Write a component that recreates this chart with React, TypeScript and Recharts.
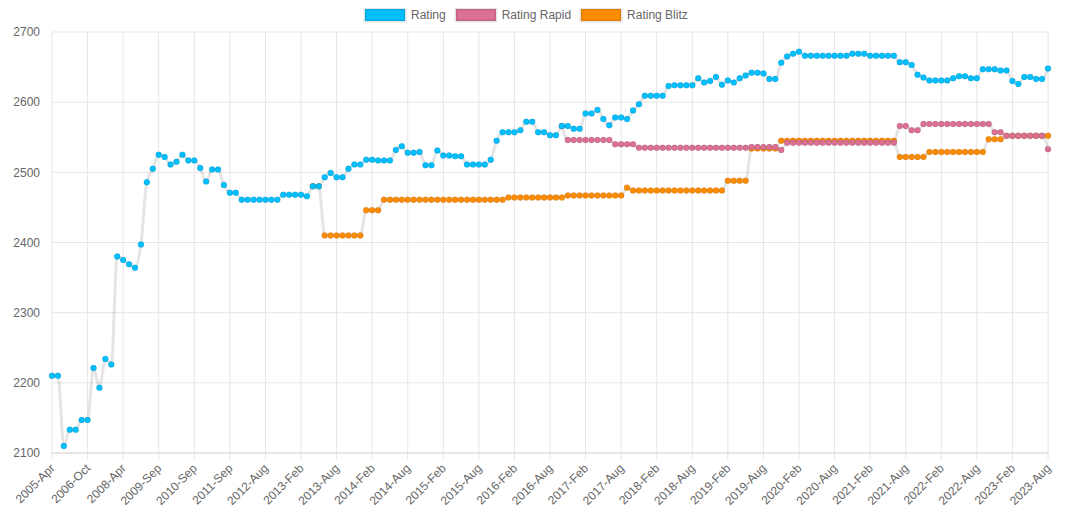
import React from 'react';
import { LineChart, Line, XAxis, YAxis, CartesianGrid } from 'recharts';

const categories = [
  '2005-Apr', '2005-Jul', '2005-Oct',
  '2006-Jan', '2006-Apr', '2006-Jul', '2006-Oct',
  '2007-Jan', '2007-Apr', '2007-Jul', '2007-Oct',
  '2008-Jan', '2008-Apr', '2008-Jul', '2008-Oct',
  '2009-Jan', '2009-Apr', '2009-Jul', '2009-Sep', '2009-Nov',
  '2010-Jan', '2010-Mar', '2010-May', '2010-Jul', '2010-Sep', '2010-Nov',
  '2011-Jan', '2011-Mar', '2011-May', '2011-Jul', '2011-Sep', '2011-Nov',
  '2012-Jan', '2012-Mar', '2012-May', '2012-Jul', '2012-Aug', '2012-Sep', '2012-Oct', '2012-Nov', '2012-Dec',
  '2013-Jan', '2013-Feb', '2013-Mar', '2013-Apr', '2013-May', '2013-Jun', '2013-Jul', '2013-Aug', '2013-Sep', '2013-Oct', '2013-Nov', '2013-Dec',
  '2014-Jan', '2014-Feb', '2014-Mar', '2014-Apr', '2014-May', '2014-Jun', '2014-Jul', '2014-Aug', '2014-Sep', '2014-Oct', '2014-Nov', '2014-Dec',
  '2015-Jan', '2015-Feb', '2015-Mar', '2015-Apr', '2015-May', '2015-Jun', '2015-Jul', '2015-Aug', '2015-Sep', '2015-Oct', '2015-Nov', '2015-Dec',
  '2016-Jan', '2016-Feb', '2016-Mar', '2016-Apr', '2016-May', '2016-Jun', '2016-Jul', '2016-Aug', '2016-Sep', '2016-Oct', '2016-Nov', '2016-Dec',
  '2017-Jan', '2017-Feb', '2017-Mar', '2017-Apr', '2017-May', '2017-Jun', '2017-Jul', '2017-Aug', '2017-Sep', '2017-Oct', '2017-Nov', '2017-Dec',
  '2018-Jan', '2018-Feb', '2018-Mar', '2018-Apr', '2018-May', '2018-Jun', '2018-Jul', '2018-Aug', '2018-Sep', '2018-Oct', '2018-Nov', '2018-Dec',
  '2019-Jan', '2019-Feb', '2019-Mar', '2019-Apr', '2019-May', '2019-Jun', '2019-Jul', '2019-Aug', '2019-Sep', '2019-Oct', '2019-Nov', '2019-Dec',
  '2020-Jan', '2020-Feb', '2020-Mar', '2020-Apr', '2020-May', '2020-Jun', '2020-Jul', '2020-Aug', '2020-Sep', '2020-Oct', '2020-Nov', '2020-Dec',
  '2021-Jan', '2021-Feb', '2021-Mar', '2021-Apr', '2021-May', '2021-Jun', '2021-Jul', '2021-Aug', '2021-Sep', '2021-Oct', '2021-Nov', '2021-Dec',
  '2022-Jan', '2022-Feb', '2022-Mar', '2022-Apr', '2022-May', '2022-Jun', '2022-Jul', '2022-Aug', '2022-Sep', '2022-Oct', '2022-Nov', '2022-Dec',
  '2023-Jan', '2023-Feb', '2023-Mar', '2023-Apr', '2023-May', '2023-Jun', '2023-Jul', '2023-Aug',
];

const xTickLabels = [
  '2005-Apr', '2006-Oct', '2008-Apr', '2009-Sep', '2010-Sep', '2011-Sep', '2012-Aug',
  '2013-Feb', '2013-Aug', '2014-Feb', '2014-Aug', '2015-Feb', '2015-Aug', '2016-Feb',
  '2016-Aug', '2017-Feb', '2017-Aug', '2018-Feb', '2018-Aug', '2019-Feb', '2019-Aug',
  '2020-Feb', '2020-Aug', '2021-Feb', '2021-Aug', '2022-Feb', '2022-Aug', '2023-Feb', '2023-Aug',
];

const yTicks = [2100, 2200, 2300, 2400, 2500, 2600, 2700];

const rating = [
  2210, 2210, 2110, 2133, 2133, 2147, 2147, 2221, 2193, 2234,
  2226, 2380, 2375, 2369, 2364, 2397, 2486, 2505, 2525, 2522,
  2511, 2515, 2525, 2517, 2517, 2506, 2487, 2504, 2504, 2482,
  2471, 2471, 2461, 2461, 2461, 2461, 2461, 2461, 2461, 2468,
  2468, 2468, 2468, 2466, 2480, 2480, 2493, 2499, 2493, 2493,
  2505, 2511, 2511, 2518, 2518, 2517, 2517, 2517, 2532, 2537,
  2528, 2528, 2529, 2510, 2510, 2531, 2524, 2524, 2523, 2523,
  2511, 2511, 2511, 2511, 2518, 2545, 2557, 2557, 2557, 2560,
  2572, 2572, 2557, 2557, 2553, 2553, 2566, 2566, 2562, 2562,
  2584, 2584, 2589, 2576, 2567, 2578, 2578, 2576, 2588, 2597,
  2609, 2609, 2609, 2609, 2623, 2624, 2624, 2624, 2624, 2634,
  2628, 2630, 2636, 2625, 2631, 2628, 2634, 2638, 2642, 2642,
  2641, 2633, 2633, 2656, 2665, 2669, 2672, 2666, 2666, 2666,
  2666, 2666, 2666, 2666, 2666, 2669, 2669, 2669, 2666, 2666,
  2666, 2666, 2666, 2657, 2657, 2653, 2639, 2635, 2631, 2631,
  2631, 2631, 2634, 2637, 2637, 2634, 2634, 2647, 2647, 2647,
  2645, 2645, 2630, 2626, 2636, 2636, 2633, 2633, 2648,
];

const rapidFrom = '2016-Oct';
const rapid = [
  2566,
  2546, 2546, 2546, 2546, 2546, 2546, 2546, 2546,
  2540, 2540, 2540, 2540,
  2535, 2535, 2535, 2535, 2535, 2535, 2535, 2535, 2535, 2535,
  2535, 2535, 2535, 2535, 2535, 2535, 2535, 2535, 2535,
  2536, 2536, 2536, 2536, 2536,
  2532,
  2542, 2542, 2542, 2542, 2542, 2542, 2542, 2542, 2542, 2542,
  2542, 2542, 2542, 2542, 2542, 2542, 2542, 2542, 2542,
  2566, 2566,
  2560, 2560,
  2569, 2569, 2569, 2569, 2569, 2569, 2569, 2569, 2569, 2569, 2569, 2569,
  2557, 2557,
  2552, 2552, 2552, 2552, 2552, 2552, 2552,
  2533,
];

const blitzFrom = '2013-Apr';
const blitz = [
  2480, 2480,
  2410, 2410, 2410, 2410, 2410, 2410, 2410,
  2446, 2446, 2446,
  2461, 2461, 2461, 2461, 2461, 2461, 2461, 2461, 2461, 2461,
  2461, 2461, 2461, 2461, 2461, 2461, 2461, 2461, 2461, 2461, 2461,
  2464, 2464, 2464, 2464, 2464, 2464, 2464, 2464, 2464, 2464,
  2467, 2467, 2467, 2467, 2467, 2467, 2467, 2467, 2467, 2467,
  2478,
  2474, 2474, 2474, 2474, 2474, 2474, 2474, 2474,
  2474, 2474, 2474, 2474, 2474, 2474, 2474, 2474,
  2488, 2488, 2488, 2488,
  2534, 2534, 2534, 2534, 2534,
  2545, 2545, 2545, 2545, 2545, 2545, 2545, 2545, 2545, 2545,
  2545, 2545, 2545, 2545, 2545, 2545, 2545, 2545, 2545, 2545,
  2522, 2522, 2522, 2522, 2522,
  2529, 2529, 2529, 2529, 2529, 2529, 2529, 2529, 2529, 2529,
  2547, 2547, 2547,
  2552, 2552, 2552, 2552, 2552, 2552, 2552, 2552,
];

const seriesNames = ['Rating', 'Rating Rapid', 'Rating Blitz'];
const seriesColors = ['#00BFFF', '#DB7093', '#FF8C00'];
const LINE_COLOR = 'rgba(0,0,0,0.1)';
const FONT = '"Liberation Sans", Arial, Helvetica, sans-serif';

const rapidStart = categories.indexOf(rapidFrom);
const blitzStart = categories.indexOf(blitzFrom);

const data = categories.map((date, i) => ({
  date,
  rating: rating[i],
  rapid: i >= rapidStart ? rapid[i - rapidStart] : null,
  blitz: i >= blitzStart ? blitz[i - blitzStart] : null,
}));

const XTick = (props: any) => {
  const { x, y, payload } = props;
  const tx = x + 3.5;
  const ty = y + 7;
  return (
    <text
      x={tx}
      y={ty}
      transform={`rotate(-45, ${tx}, ${ty})`}
      textAnchor="end"
      fill="#666"
      fontSize={12}
      fontFamily={FONT}
    >
      {payload.value}
    </text>
  );
};

const dotStyle = (color: string) => ({
  r: 3,
  fill: color,
  stroke: LINE_COLOR,
  strokeWidth: 1,
});

export default function App() {
  return (
    <div style={{ position: 'relative', width: 1058, height: 516, fontFamily: FONT }}>
      <div
        style={{
          position: 'absolute',
          left: 357,
          top: 1,
          height: 12,
          display: 'flex',
          alignItems: 'center',
          fontSize: 12,
          color: '#666',
          whiteSpace: 'nowrap',
        }}
      >
        {seriesNames.map((name, i) => (
          <div key={name} style={{ display: 'flex', alignItems: 'center', marginRight: 10 }}>
            <div
              style={{
                width: 40,
                height: 12,
                background: seriesColors[i],
                boxShadow: `0 0 0 1.5px ${LINE_COLOR}, inset 0 0 0 1.5px ${LINE_COLOR}`,
                marginRight: 6,
              }}
            />
            <span style={{ lineHeight: '12px' }}>{name}</span>
          </div>
        ))}
      </div>
      <LineChart
        width={1058}
        height={516}
        data={data}
        margin={{ top: 24, right: 18, bottom: 11, left: 0 }}
      >
        <CartesianGrid stroke="#e6e6e6" strokeWidth={1} />
        <XAxis
          dataKey="date"
          ticks={xTickLabels}
          interval={0}
          height={60}
          tickSize={7}
          tickMargin={2}
          tickLine={{ stroke: '#e6e6e6' }}
          axisLine={{ stroke: '#d9d9d9' }}
          tick={<XTick />}
        />
        <YAxis
          type="number"
          domain={[2100, 2700]}
          ticks={yTicks}
          allowDataOverflow
          width={44}
          tickLine={false}
          axisLine={false}
          tickSize={6}
          tickMargin={6}
          tick={{ fill: '#666', fontSize: 12, fontFamily: FONT }}
        />
        <Line
          dataKey="blitz"
          name={seriesNames[2]}
          type="monotone"
          stroke={LINE_COLOR}
          strokeWidth={3}
          dot={dotStyle(seriesColors[2])}
          activeDot={false}
          isAnimationActive={false}
        />
        <Line
          dataKey="rapid"
          name={seriesNames[1]}
          type="monotone"
          stroke={LINE_COLOR}
          strokeWidth={3}
          dot={dotStyle(seriesColors[1])}
          activeDot={false}
          isAnimationActive={false}
        />
        <Line
          dataKey="rating"
          name={seriesNames[0]}
          type="monotone"
          stroke={LINE_COLOR}
          strokeWidth={3}
          dot={dotStyle(seriesColors[0])}
          activeDot={false}
          isAnimationActive={false}
        />
      </LineChart>
    </div>
  );
}
